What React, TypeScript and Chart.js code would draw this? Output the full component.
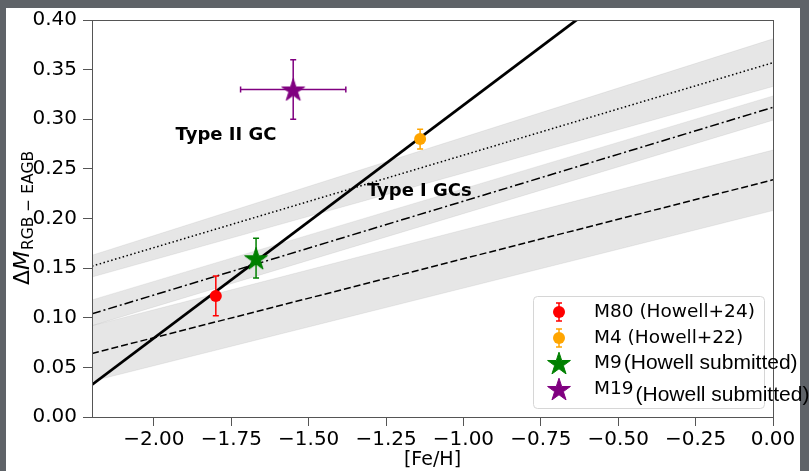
import React, { useEffect, useRef } from 'react';
import { Chart, registerables } from 'chart.js';

Chart.register(...registerables);

const SANS = '"DejaVu Sans", sans-serif';
const ARIAL = '"Liberation Sans", Arial, sans-serif';

// ---- axes ----
const xRange = [-2.2, 0.0];
const yRange = [0.0, 0.4];
const xTicks = [-2.0, -1.75, -1.5, -1.25, -1.0, -0.75, -0.5, -0.25, 0.0];
const yTicks = [0.0, 0.05, 0.1, 0.15, 0.2, 0.25, 0.3, 0.35, 0.4];

// ---- relations, evaluated at the ends of the [Fe/H] range ----
const lineFeH = [-2.2, 0.0];
const allClustersFit = [0.0325, 0.549];
const dottedFit = [0.152, 0.357];
const dottedUpper = [0.163, 0.381];
const dottedLower = [0.141, 0.333];
const dashDotFit = [0.104, 0.312];
const dashDotUpper = [0.118, 0.3235];
const dashDotLower = [0.092, 0.299];
const dashedFit = [0.064, 0.239];
const dashedUpper = [0.092, 0.269];
const dashedLower = [0.036, 0.208];

// ---- globular clusters ----
const clusterNames = ['M80', 'M4', 'M9', 'M19'];
const clusterRefs = ['(Howell+24)', '(Howell+22)', '(Howell submitted)', '(Howell submitted)'];
const clusterFeH = [-1.8, -1.14, -1.67, -1.55];
const clusterFeHErr = [0, 0, 0, 0.17];
const clusterDM = [0.122, 0.28, 0.16, 0.33];
const clusterDMErr = [0.02, 0.01, 0.02, 0.03];
const clusterColors = ['#ff0000', '#ffa500', '#008000', '#800080'];
const clusterMarkers = ['circle', 'circle', 'star', 'star'];

// ---- annotations ----
const noteTexts = ['Type II GC', 'Type I GCs'];
const noteFeH = [-1.93, -1.312];
const noteDM = [0.279, 0.223];

const toPts = (ys: number[]) => lineFeH.map((x, i) => ({ x, y: ys[i] }));
const fmt = (v: number) => v.toFixed(2).replace('-', '\u2212');

function makeStar(color: string, R: number): HTMLCanvasElement {
  const size = Math.ceil(2 * R + 4);
  const c = document.createElement('canvas');
  c.width = size;
  c.height = size;
  const g = c.getContext('2d')!;
  g.translate(size / 2, size / 2 + R * 0.1);
  g.beginPath();
  for (let i = 0; i < 10; i++) {
    const r = i % 2 === 0 ? R : R * 0.382;
    const a = -Math.PI / 2 + (i * Math.PI) / 5;
    g.lineTo(r * Math.cos(a), r * Math.sin(a));
  }
  g.closePath();
  g.fillStyle = color;
  g.fill();
  g.lineWidth = 1;
  g.strokeStyle = color;
  g.stroke();
  return c;
}

const POINTS_INDEX = 10;

export default function App() {
  const ref = useRef<HTMLCanvasElement>(null);

  useEffect(() => {
    const canvas = ref.current!;
    const stars = clusterColors.map((c) => makeStar(c, 12));
    const pointStyles = clusterMarkers.map((m, i) => (m === 'star' ? stars[i] : 'circle'));

    const band = 'rgba(128,128,128,0.2)';
    const bandEdge = 'rgba(128,128,128,0.12)';
    const bandPair = (up: number[], lo: number[]) => [
      { data: toPts(up), fill: '+1', backgroundColor: band, borderColor: bandEdge, borderWidth: 1, pointRadius: 0, order: 5 },
      { data: toPts(lo), fill: false, borderColor: bandEdge, borderWidth: 1, pointRadius: 0, order: 5 },
    ];

    const frame = {
      id: 'frame',
      beforeDraw(chart: any) {
        const { ctx, width, height } = chart;
        ctx.save();
        ctx.fillStyle = '#5f6368';
        ctx.fillRect(0, 0, width, height);
        ctx.fillStyle = '#ffffff';
        ctx.fillRect(6, 8, 794, height - 8);
        ctx.restore();
      },
      afterDraw(chart: any) {
        const { ctx, chartArea: a } = chart;
        ctx.save();
        ctx.strokeStyle = '#555';
        ctx.lineWidth = 1;
        ctx.strokeRect(Math.round(a.left) + 0.5, Math.round(a.top) + 0.5, Math.round(a.right - a.left), Math.round(a.bottom - a.top));
        // axis titles
        ctx.fillStyle = '#000';
        ctx.font = `19px ${SANS}`;
        ctx.textAlign = 'center';
        ctx.textBaseline = 'middle';
        ctx.fillText('[Fe/H]', (a.left + a.right) / 2, 460);

        const big = 22, small = 15.5;
        ctx.textAlign = 'left';
        ctx.textBaseline = 'alphabetic';
        ctx.font = `${big}px ${SANS}`;
        const wD = ctx.measureText('\u0394').width;
        ctx.font = `italic ${big}px ${SANS}`;
        const wM = ctx.measureText('M').width;
        ctx.font = `${small}px ${SANS}`;
        const sub = 'RGB \u2212 EAGB';
        const wS = ctx.measureText(sub).width;
        const total = wD + wM + wS;
        ctx.translate(29, (a.top + a.bottom) / 2 + total / 2);
        ctx.rotate(-Math.PI / 2);
        ctx.font = `${big}px ${SANS}`;
        ctx.fillText('\u0394', 0, 0);
        ctx.font = `italic ${big}px ${SANS}`;
        ctx.fillText('M', wD, 0);
        ctx.font = `${small}px ${SANS}`;
        ctx.fillText(sub, wD + wM + 1, 4);
        ctx.restore();

        // legend
        ctx.save();
        ctx.beginPath();
        ctx.roundRect(533.5, 296.5, 231, 112, 4);
        ctx.fillStyle = 'rgba(255,255,255,0.8)';
        ctx.fill();
        ctx.strokeStyle = '#d6d6d6';
        ctx.lineWidth = 1;
        ctx.stroke();
        const rowY = [312, 338, 363, 389];
        const mx = 559;
        clusterNames.forEach((name, i) => {
          const my = rowY[i];
          const col = clusterColors[i];
          if (clusterMarkers[i] === 'star') {
            const s = stars[i];
            ctx.drawImage(s, mx - s.width / 2, my - s.height / 2);
          } else {
            ctx.strokeStyle = col;
            ctx.lineWidth = 1.5;
            ctx.beginPath();
            ctx.moveTo(mx, my - 9);
            ctx.lineTo(mx, my + 9);
            ctx.moveTo(mx - 3, my - 9);
            ctx.lineTo(mx + 3, my - 9);
            ctx.moveTo(mx - 3, my + 9);
            ctx.lineTo(mx + 3, my + 9);
            ctx.stroke();
            ctx.beginPath();
            ctx.arc(mx, my, 6, 0, Math.PI * 2);
            ctx.fillStyle = col;
            ctx.fill();
          }
          ctx.fillStyle = '#000';
          ctx.textAlign = 'left';
          ctx.textBaseline = 'middle';
          ctx.font = `18.5px ${SANS}`;
          if (clusterMarkers[i] === 'star') {
            ctx.fillText(name, 594, my);
            const w = ctx.measureText(name).width;
            ctx.font = `21px ${ARIAL}`;
            ctx.fillText(clusterRefs[i], 594 + w + 2, my + (i === 3 ? 6 : 0));
          } else {
            ctx.fillText(`${name} ${clusterRefs[i]}`, 594, my);
          }
        });
        ctx.restore();
      },
    };

    const annotations = {
      id: 'annotations',
      afterDatasetsDraw(chart: any) {
        const { ctx, scales } = chart;
        ctx.save();
        ctx.fillStyle = '#000';
        ctx.font = `bold 18px ${SANS}`;
        ctx.textAlign = 'left';
        ctx.textBaseline = 'alphabetic';
        noteTexts.forEach((t, i) => {
          ctx.fillText(t, scales.x.getPixelForValue(noteFeH[i]), scales.y.getPixelForValue(noteDM[i]));
        });
        ctx.restore();
      },
    };

    const errorBars = {
      id: 'errorBars',
      beforeDatasetDraw(chart: any, args: any) {
        if (args.index !== POINTS_INDEX) return;
        const { ctx, scales } = chart;
        const X = scales.x, Y = scales.y;
        ctx.save();
        ctx.lineWidth = 1.5;
        clusterFeH.forEach((fx, i) => {
          const px = X.getPixelForValue(fx);
          const py = Y.getPixelForValue(clusterDM[i]);
          ctx.strokeStyle = clusterColors[i];
          ctx.beginPath();
          const dy = clusterDMErr[i];
          if (dy > 0) {
            const y0 = Y.getPixelForValue(clusterDM[i] - dy);
            const y1 = Y.getPixelForValue(clusterDM[i] + dy);
            ctx.moveTo(px, y0);
            ctx.lineTo(px, y1);
            ctx.moveTo(px - 3, y0);
            ctx.lineTo(px + 3, y0);
            ctx.moveTo(px - 3, y1);
            ctx.lineTo(px + 3, y1);
          }
          const dx = clusterFeHErr[i];
          if (dx > 0) {
            const x0 = X.getPixelForValue(fx - dx);
            const x1 = X.getPixelForValue(fx + dx);
            ctx.moveTo(x0, py);
            ctx.lineTo(x1, py);
            ctx.moveTo(x0, py - 3);
            ctx.lineTo(x0, py + 3);
            ctx.moveTo(x1, py - 3);
            ctx.lineTo(x1, py + 3);
          }
          ctx.stroke();
        });
        ctx.restore();
      },
    };

    const fitLine = (ys: number[], dash: number[], width: number, order: number) => ({
      data: toPts(ys),
      borderColor: '#000',
      borderWidth: width,
      borderDash: dash,
      borderCapStyle: 'butt',
      pointRadius: 0,
      fill: false,
      order,
    });

    const datasets: any[] = [
      ...bandPair(dottedUpper, dottedLower), // 0,1
      ...bandPair(dashDotUpper, dashDotLower), // 2,3
      ...bandPair(dashedUpper, dashedLower), // 4,5
      fitLine(dottedFit, [1.5, 2.5], 1.5, 3), // 6
      fitLine(dashDotFit, [9, 3, 2, 3], 1.5, 3), // 7
      fitLine(dashedFit, [7, 3], 1.5, 3), // 8
      fitLine(allClustersFit, [], 2.8, 2), // 9
      {
        // 10
        data: clusterFeH.map((x, i) => ({ x, y: clusterDM[i] })),
        showLine: false,
        pointStyle: pointStyles,
        pointRadius: 6,
        pointBackgroundColor: clusterColors,
        pointBorderColor: clusterColors,
        pointBorderWidth: 0,
        order: 0,
      },
    ];

    const tickFont = { family: SANS, size: 20 };

    const chart = new Chart(canvas, {
      type: 'line',
      data: { datasets },
      plugins: [frame, annotations, errorBars],
      options: {
        responsive: false,
        animation: false,
        events: [],
        layout: { padding: { top: 20, right: 36, left: 0, bottom: 0 } },
        plugins: { legend: { display: false }, tooltip: { enabled: false } },
        scales: {
          x: {
            type: 'linear',
            min: xRange[0],
            max: xRange[1],
            afterFit: (s: any) => {
              s.height = 54;
            },
            afterBuildTicks: (s: any) => {
              s.ticks = xTicks.map((value) => ({ value }));
            },
            ticks: { font: tickFont, color: '#000', padding: 2, maxRotation: 0, autoSkip: false, callback: (v: any) => fmt(Number(v)) },
            grid: { drawOnChartArea: false, drawTicks: true, tickLength: 9, color: '#555', tickWidth: 1 },
            border: { display: true, color: '#555', width: 1 },
          },
          y: {
            type: 'linear',
            min: yRange[0],
            max: yRange[1],
            afterFit: (s: any) => {
              s.width = 92;
            },
            afterBuildTicks: (s: any) => {
              s.ticks = yTicks.map((value) => ({ value }));
            },
            ticks: { font: tickFont, color: '#000', padding: 6, autoSkip: false, callback: (v: any) => fmt(Number(v)) },
            grid: { drawOnChartArea: false, drawTicks: true, tickLength: 9, color: '#555', tickWidth: 1 },
            border: { display: true, color: '#555', width: 1 },
          },
        },
      } as any,
    });

    return () => chart.destroy();
  }, []);

  return (
    <div style={{ position: 'fixed', left: 0, top: 0, width: 809, height: 471 }}>
      <canvas ref={ref} width={809} height={471} style={{ display: 'block' }} />
    </div>
  );
}
